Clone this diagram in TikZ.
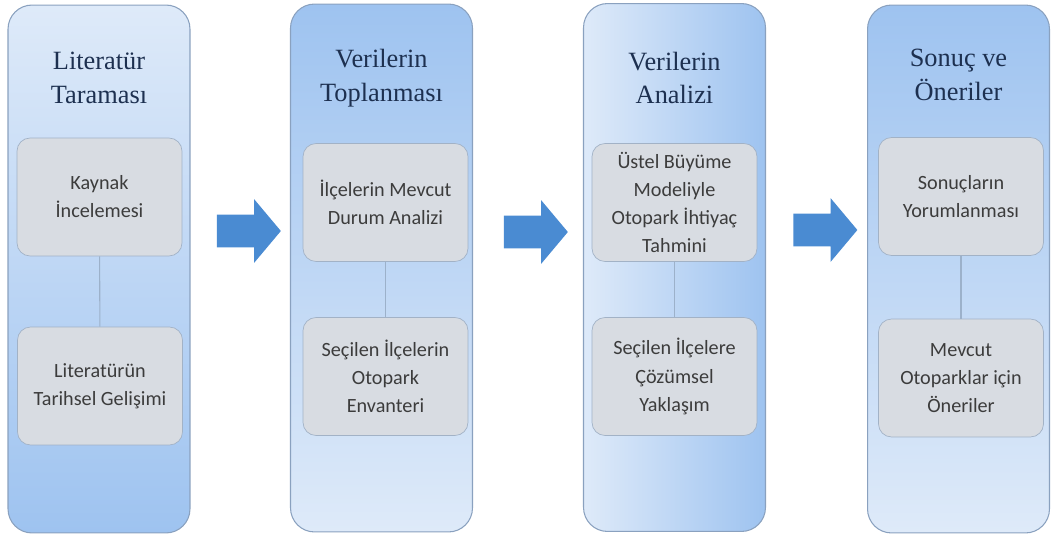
\documentclass[tikz,border=0pt]{standalone}
\usepackage{fontspec}
\setmainfont{Liberation Serif}
\newfontfamily\boxfont{Carlito}
\usetikzlibrary{shapes.arrows}
\definecolor{panelline}{HTML}{8AA1BF}
\definecolor{lightblue}{HTML}{DEEAF9}
\definecolor{midblue}{HTML}{9EC3F0}
\definecolor{boxfill}{HTML}{D8DCE2}
\definecolor{boxline}{HTML}{A2B2C6}
\definecolor{boxtext}{HTML}{3C3C3C}
\definecolor{titleblue}{HTML}{1D3050}
\definecolor{arrowblue}{HTML}{4A8BD2}
\definecolor{linkline}{HTML}{9CB1CA}

\begin{document}
\begin{tikzpicture}[x=0.02cm,y=-0.02cm,
                    panel/.style={rectangle,rounded corners=0.48cm,draw=panelline,line width=0.6pt,
                                  minimum width=3.64cm,minimum height=10.56cm,inner sep=0pt},
                    title node/.style={align=center,text=titleblue,font=\fontsize{15}{19}\selectfont},
                    main node/.style={rectangle,rounded corners=0.26cm,draw=boxline,fill=boxfill,
                                      minimum width=3.3cm,minimum height=2.36cm,align=center,text=boxtext,
                                      font=\boxfont\fontsize{11.5}{16}\selectfont},
                    step arrow/.style={single arrow,fill=arrowblue,draw=none,inner xsep=0pt,inner ysep=0.32cm,
                                       minimum height=1.28cm,single arrow head extend=0.31cm,
                                       single arrow tip angle=100,single arrow head indent=0pt}]

  \useasboundingbox (0,0) rectangle (1051,540);

  % panels
  \node[panel,top color=lightblue,bottom color=midblue] (p1) at (99,269) {};
  \node[panel,top color=midblue,bottom color=lightblue] (p2) at (381.5,268) {};
  \node[panel,left color=lightblue,right color=midblue] (p3) at (674.5,267.5) {};
  \node[panel,top color=midblue,bottom color=lightblue] (p4) at (958.5,269) {};

  \node[title node] (t1) at (99,78) {Literatür\\Taraması};
  \node[title node] (t2) at (381.5,78) {Verilerin\\Toplanması};
  \node[title node] (t3) at (674.5,78) {Verilerin\\Analizi};
  \node[title node] (t4) at (958.5,75) {Sonuç ve\\Öneriler};

  \node[main node] (1) at (99.5,197) {Kaynak\\İncelemesi};
  \node[main node] (2) at (100,386) {Literatürün\\Tarihsel Gelişimi};
  \node[main node] (3) at (385.5,202.5) {İlçelerin Mevcut\\Durum Analizi};
  \node[main node] (4) at (385.5,376.5) {Seçilen İlçelerin\\Otopark\\Envanteri};
  \node[main node] (5) at (674.5,202.5) {Üstel Büyüme\\Modeliyle\\Otopark İhtiyaç\\Tahmini};
  \node[main node] (6) at (674.5,376.5) {Seçilen İlçelere\\Çözümsel\\Yaklaşım};
  \node[main node] (7) at (961,196.5) {Sonuçların\\Yorumlanması};
  \node[main node] (8) at (961,378) {Mevcut\\Otoparklar için\\Öneriler};

  \path[draw=linkline,line width=0.6pt]
    (1) edge (2)
    (3) edge (4)
    (5) edge (6)
    (7) edge (8);

  \node[step arrow] (a1) at (242,231) {};
  \node[step arrow] (a2) at (529,232) {};
  \node[step arrow] (a3) at (818.5,230) {};
\end{tikzpicture}
\end{document}
